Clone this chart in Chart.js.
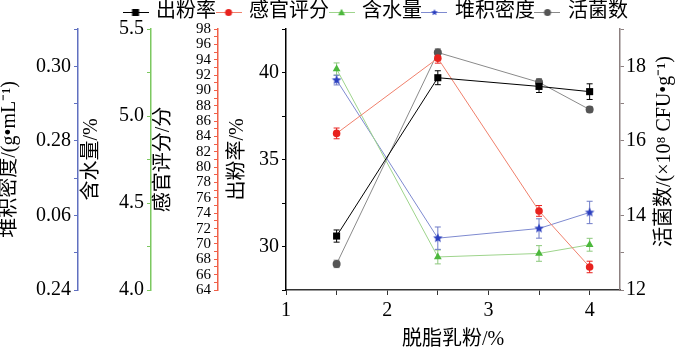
<!DOCTYPE html>
<html>
<head>
<meta charset="utf-8">
<script src="https://cdn.jsdelivr.net/npm/chart.js@4.4.1/dist/chart.umd.min.js"></script>
<style>html,body{margin:0;padding:0;background:#fff}</style>
</head>
<body>
<canvas id="multiChart" width="677" height="353"></canvas>
<script>
// 脱脂乳粉添加量 vs 出粉率 / 感官评分 / 含水量 / 堆积密度 / 活菌数
const skimMilk = [1.5, 2.5, 3.5, 4];

const yieldRate = [30.6, 39.7, 39.2, 38.9];
const yieldErr = [0.35, 0.4, 0.35, 0.45];
const sensory = [84.4, 94.2, 74.3, 67.0];
const sensoryErr = [0.7, 0.65, 0.7, 0.75];
const moisture = [5.27, 4.19, 4.21, 4.26];
const moistureErr = [0.035, 0.04, 0.045, 0.037];
const density = [0.2963, 0.2539, 0.2565, 0.2608];
const densityErr = [0.0013, 0.003, 0.0026, 0.003];
const viable = [12.7, 18.37, 17.57, 16.84];
const viableErr = [0.1, 0.1, 0.1, 0.08];

// tick labels as printed in the figure (0.26 is printed as "0.06")
const densityTickVals = [0.24, 0.26, 0.28, 0.30];
const densityTickText = ['0.24', '0.06', '0.28', '0.30'];

const SERIF = "'Liberation Serif', 'Noto Sans CJK SC', serif";

function marker(g, shape, color, cx, cy, r) {
  g.fillStyle = color;
  g.beginPath();
  if (shape === 'rect') {
    g.rect(cx - r, cy - r, 2 * r, 2 * r);
  } else if (shape === 'circle') {
    g.arc(cx, cy, r, 0, Math.PI * 2);
  } else if (shape === 'triangle') {
    g.moveTo(cx, cy - r * 1.1);
    g.lineTo(cx + r, cy + r * 0.75);
    g.lineTo(cx - r, cy + r * 0.75);
  } else if (shape === 'star') {
    for (let k = 0; k < 10; k++) {
      const rad = k % 2 ? r * 0.45 : r;
      const a = -Math.PI / 2 + k * Math.PI / 5;
      const px = cx + rad * Math.cos(a), py = cy + rad * Math.sin(a);
      if (k) g.lineTo(px, py); else g.moveTo(px, py);
    }
  }
  g.closePath();
  g.fill();
}

function starPoint(color, r) {
  const c = document.createElement('canvas');
  const s = Math.ceil(r * 2 + 2);
  c.width = s; c.height = s;
  marker(c.getContext('2d'), 'star', color, s / 2, s / 2, r);
  return c;
}

function legendIcon(shape, color, lineColor, r) {
  const c = document.createElement('canvas');
  c.width = 26; c.height = 12;
  const g = c.getContext('2d');
  g.strokeStyle = lineColor;
  g.lineWidth = 1;
  g.beginPath(); g.moveTo(0, 6.5); g.lineTo(26, 6.5); g.stroke();
  marker(g, shape, color, 13, 6.5, r);
  return c;
}

const pts = vals => vals.map((v, i) => ({x: skimMilk[i], y: v}));

const series = [
  {label: '出粉率', data: yieldRate, err: yieldErr, axis: 'yYield', color: '#000000', line: '#000000', errColor: '#000000', shape: 'rect', style: 'rect', r: 5},
  {label: '感官评分', data: sensory, err: sensoryErr, axis: 'ySensory', color: '#e8221e', line: '#f0806c', errColor: '#e8221e', shape: 'circle', style: 'circle', r: 3.8},
  {label: '含水量', data: moisture, err: moistureErr, axis: 'yMoisture', color: '#4cb83c', line: '#9ed48c', errColor: '#8cc87c', shape: 'triangle', style: 'triangle', r: 4.5},
  {label: '堆积密度', data: density, err: densityErr, axis: 'yDensity', color: '#2b3fbf', line: '#7e8ad0', errColor: '#6f7cc8', shape: 'star', style: null, r: 5},
  {label: '活菌数', data: viable, err: viableErr, axis: 'yViable', color: '#555555', line: '#8a8a8a', errColor: '#8a8a8a', shape: 'circle', style: 'circle', r: 4}
];

const datasets = series.map(s => ({
  label: s.label,
  data: pts(s.data),
  errorBars: s.err,
  errColor: s.errColor,
  yAxisID: s.axis,
  borderColor: s.line,
  backgroundColor: s.color,
  borderWidth: 1,
  tension: 0,
  pointStyle: s.style || starPoint(s.color, s.r),
  pointRadius: s.r,
  pointBorderWidth: 0,
  pointBackgroundColor: s.color,
  pointBorderColor: s.color,
  legendIcon: legendIcon(s.shape, s.color, s.line, 3.5)
}));

function sideAxis(o) {
  return {
    type: 'linear',
    position: o.position || 'left',
    weight: o.weight,
    min: o.min,
    max: o.max,
    afterFit: scale => { scale.width = o.width; },
    border: {color: o.color, width: 1.5},
    grid: {drawOnChartArea: false, color: o.color, tickLength: 4, tickWidth: 1},
    ticks: {
      stepSize: o.step, autoSkip: false, includeBounds: false, maxTicksLimit: 100,
      padding: o.pad === undefined ? 3 : o.pad, color: '#000',
      font: {family: SERIF, size: o.fontSize || 20},
      callback: o.label
    },
    title: {
      display: !!o.title, text: o.title, color: '#000',
      font: {family: SERIF, size: 20, lineHeight: 1},
      padding: {top: o.titlePad || 0, bottom: 0}
    }
  };
}

const errorBarPlugin = {
  id: 'errorBars',
  beforeDatasetsDraw(chart) {
    const ctx = chart.ctx;
    chart.data.datasets.forEach((ds, i) => {
      const meta = chart.getDatasetMeta(i);
      const ys = chart.scales[ds.yAxisID];
      ctx.save();
      ctx.strokeStyle = ds.errColor;
      ctx.lineWidth = 1;
      meta.data.forEach((el, j) => {
        const v = ds.data[j].y, e = ds.errorBars[j];
        const y1 = ys.getPixelForValue(v - e), y2 = ys.getPixelForValue(v + e);
        ctx.beginPath();
        ctx.moveTo(el.x, y1); ctx.lineTo(el.x, y2);
        ctx.moveTo(el.x - 3, y1); ctx.lineTo(el.x + 3, y1);
        ctx.moveTo(el.x - 3, y2); ctx.lineTo(el.x + 3, y2);
        ctx.stroke();
      });
      ctx.restore();
    });
  }
};

// legend sits a little right of centre and hugs the plot top
const legendTweak = {
  id: 'legendTweak',
  beforeLayout(chart) {
    const lg = chart.legend;
    if (lg && !lg._trimmed) {
      const fit = lg.fit;
      lg.fit = function () { fit.call(this); this.height -= 3; };
      lg._trimmed = true;
    }
  },
  afterLayout(chart) {
    chart.legend.left += 38;
    chart.legend.right += 38;
  }
};

const rightTitle = {
  id: 'rightTitle',
  afterDraw(chart) {
    const s = chart.scales.yViable;
    const ctx = chart.ctx;
    ctx.save();
    ctx.translate(s.right - 12, (s.top + s.bottom) / 2 - 8);
    ctx.rotate(-Math.PI / 2);
    ctx.textAlign = 'center';
    ctx.textBaseline = 'middle';
    ctx.fillStyle = '#000';
    ctx.font = '20px ' + SERIF;
    ctx.fillText('活菌数/(×10⁸ CFU•g⁻¹)', 0, 0);
    ctx.restore();
  }
};

new Chart(document.getElementById('multiChart').getContext('2d'), {
  type: 'line',
  data: {datasets},
  options: {
    responsive: false,
    animation: false,
    layout: {padding: {top: 0, left: 0, right: 0, bottom: 0}},
    plugins: {
      tooltip: {enabled: false},
      legend: {
        position: 'top',
        align: 'center',
        labels: {
          usePointStyle: true,
          pointStyleWidth: 21,
          padding: 2,
          color: '#000',
          font: {family: SERIF, size: 20},
          generateLabels: chart => chart.data.datasets.map((ds, i) => ({
            text: ds.label, pointStyle: ds.legendIcon, datasetIndex: i,
            fillStyle: ds.backgroundColor, strokeStyle: ds.borderColor, lineWidth: 0, hidden: false
          }))
        }
      }
    },
    scales: {
      x: {
        type: 'linear', min: 1, max: 4.3,
        afterFit: scale => { scale.height = 63; },
        border: {color: '#333', width: 1.5},
        grid: {drawOnChartArea: false, color: '#333', tickLength: 5},
        ticks: {
          stepSize: 0.5, includeBounds: false, autoSkip: false, padding: 4, color: '#000',
          font: {family: SERIF, size: 20},
          callback: v => Number.isInteger(v) ? String(v) : ''
        },
        title: {display: true, text: '脱脂乳粉/%', color: '#000', font: {family: SERIF, size: 20, lineHeight: 1}, padding: {top: 0, bottom: 3}}
      },
      yYield: sideAxis({weight: 0, width: 68, color: '#000', min: 27.5, max: 42.5, step: 2.5, title: '出粉率/%', titlePad: 10,
        label: v => Math.abs(v % 5) < 1e-6 ? String(v) : ''}),
      ySensory: sideAxis({weight: 1, width: 67, color: '#f06048', min: 64, max: 98, step: 1, title: '感官评分/分', titlePad: 3, fontSize: 15,
        label: v => v % 2 === 0 ? String(v) : ''}),
      yMoisture: sideAxis({weight: 2, width: 73, color: '#7cc860', min: 4, max: 5.5, step: 0.25, title: '含水量/%', titlePad: 4,
        label: v => Math.abs((v * 2) % 1) < 1e-6 ? v.toFixed(1) : ''}),
      yDensity: sideAxis({weight: 3, width: 78, color: '#6070c0', min: 0.24, max: 0.31, step: 0.01, title: '堆积密度/(g•mL⁻¹)', titlePad: 0,
        label: v => { const k = densityTickVals.findIndex(t => Math.abs(t - v) < 1e-6); return k >= 0 ? densityTickText[k] : ''; }}),
      yViable: sideAxis({position: 'right', weight: 0, width: 57, color: '#8c8080', min: 12, max: 19, step: 1, title: '', pad: 2,
        label: v => v % 2 === 0 ? String(v) : ''})
    }
  },
  plugins: [errorBarPlugin, legendTweak, rightTitle]
});
</script>
</body>
</html>
